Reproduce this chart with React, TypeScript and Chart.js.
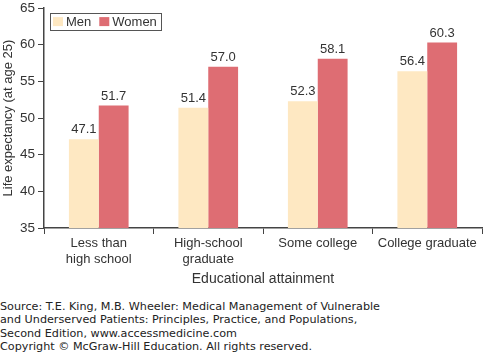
import React, { useEffect, useRef } from "react";
import { Chart, registerables } from "chart.js";

Chart.register(...registerables);

const categories: string[][] = [["Less than", "high school"], ["High-school", "graduate"], ["Some college"], ["College graduate"]];
const menValues = [47.1, 51.4, 52.3, 56.4];
const womenValues = [51.7, 57.0, 58.1, 60.3];
const seriesNames = ["Men", "Women"];
const yTicks = [35, 40, 45, 50, 55, 60, 65];
const sourceLines = [
  "Source: T.E. King, M.B. Wheeler: Medical Management of Vulnerable",
  "and Underserved Patients: Principles, Practice, and Populations,",
  "Second Edition, www.accessmedicine.com",
  "Copyright © McGraw-Hill Education. All rights reserved.",
];

const MEN_COLOR = "#fee8c2";
const WOMEN_COLOR = "#de6d73";
const TEXT = "#333333";
const AXIS = "#444444";
const FONT = "'Liberation Sans', Arial, sans-serif";

const labelPlugin = {
  id: "valueLabels",
  afterDatasetsDraw(chart: any) {
    const ctx = chart.ctx;
    ctx.save();
    ctx.font = `13px ${FONT}`;
    ctx.fillStyle = TEXT;
    ctx.textAlign = "center";
    ctx.textBaseline = "bottom";
    chart.data.datasets.forEach((ds: any, di: number) => {
      const meta = chart.getDatasetMeta(di);
      meta.data.forEach((bar: any, i: number) => {
        ctx.fillText(Number(ds.data[i]).toFixed(1), bar.x, bar.y - 3);
      });
    });
    ctx.restore();
  },
};

const legendPlugin = {
  id: "boxLegend",
  afterDraw(chart: any) {
    const ctx = chart.ctx;
    const a = chart.chartArea;
    const x0 = a.left + 6;
    const y0 = a.top + 5;
    ctx.save();
    ctx.font = `13px ${FONT}`;
    ctx.textBaseline = "middle";
    ctx.textAlign = "left";
    const sw = 10;
    let x = x0 + 3;
    const cy = y0 + 8.5;
    const colors = [MEN_COLOR, WOMEN_COLOR];
    seriesNames.forEach((n, i) => {
      ctx.fillStyle = colors[i];
      ctx.fillRect(x, cy - 4.5, sw, 9);
      x += sw + 3;
      ctx.fillStyle = TEXT;
      ctx.fillText(n, x, cy + 0.5);
      x += ctx.measureText(n).width + 8;
    });
    const w = x - 8 + 4 - x0;
    ctx.strokeStyle = "#555";
    ctx.lineWidth = 1;
    ctx.strokeRect(Math.round(x0) + 0.5, Math.round(y0) + 0.5, Math.round(w), 17);
    ctx.restore();
  },
};

export default function App() {
  const ref = useRef<HTMLCanvasElement>(null);
  useEffect(() => {
    const chart = new Chart(ref.current!, {
      type: "bar",
      data: {
        labels: categories,
        datasets: [
          { label: seriesNames[0], data: menValues, backgroundColor: MEN_COLOR, categoryPercentage: 0.545, barPercentage: 1.0 },
          { label: seriesNames[1], data: womenValues, backgroundColor: WOMEN_COLOR, categoryPercentage: 0.545, barPercentage: 1.0 },
        ],
      },
      options: {
        animation: false,
        responsive: false,
        maintainAspectRatio: false,
        layout: { padding: { top: 0, right: 2, left: 1, bottom: 4 } },
        plugins: { legend: { display: false }, tooltip: { enabled: false } },
        scales: {
          x: {
            grid: { offset: true, drawOnChartArea: false, tickLength: 6, color: AXIS },
            border: { color: AXIS, width: 1.5 },
            ticks: { color: TEXT, font: { family: FONT, size: 13 }, padding: 2, maxRotation: 0 },
            title: { display: true, text: "Educational attainment", color: TEXT, font: { family: FONT, size: 14 }, padding: { top: 2, bottom: 0 } },
          },
          y: {
            min: 35,
            max: 65,
            afterBuildTicks: (s: any) => { s.ticks = yTicks.map((v) => ({ value: v })); },
            afterFit: (s: any) => { s.width = 43; },
            grid: { drawOnChartArea: false, tickLength: 6, color: AXIS },
            border: { color: AXIS, width: 1.5 },
            ticks: { color: TEXT, font: { family: FONT, size: 13.5 }, padding: 3 },
            title: { display: true, text: "Life expectancy (at age 25)", color: TEXT, font: { family: FONT, size: 13 }, padding: 0 },
          },
        },
      },
      plugins: [labelPlugin, legendPlugin],
    });
    return () => chart.destroy();
  }, []);
  return (
    <div style={{ position: "absolute", left: 0, top: 0, width: 484, height: 352, background: "#fff", overflow: "hidden" }}>
      <canvas ref={ref} width={484} height={295} style={{ display: "block", position: "absolute", left: 0, top: -3 }} />
      <div style={{ position: "absolute", left: 0, top: 300, fontFamily: "'DejaVu Sans', Verdana, sans-serif", fontSize: 11.2, lineHeight: "13.3px", color: "#222", whiteSpace: "pre" }}>
        {sourceLines.map((l, i) => (
          <div key={i}>{l}</div>
        ))}
      </div>
    </div>
  );
}
